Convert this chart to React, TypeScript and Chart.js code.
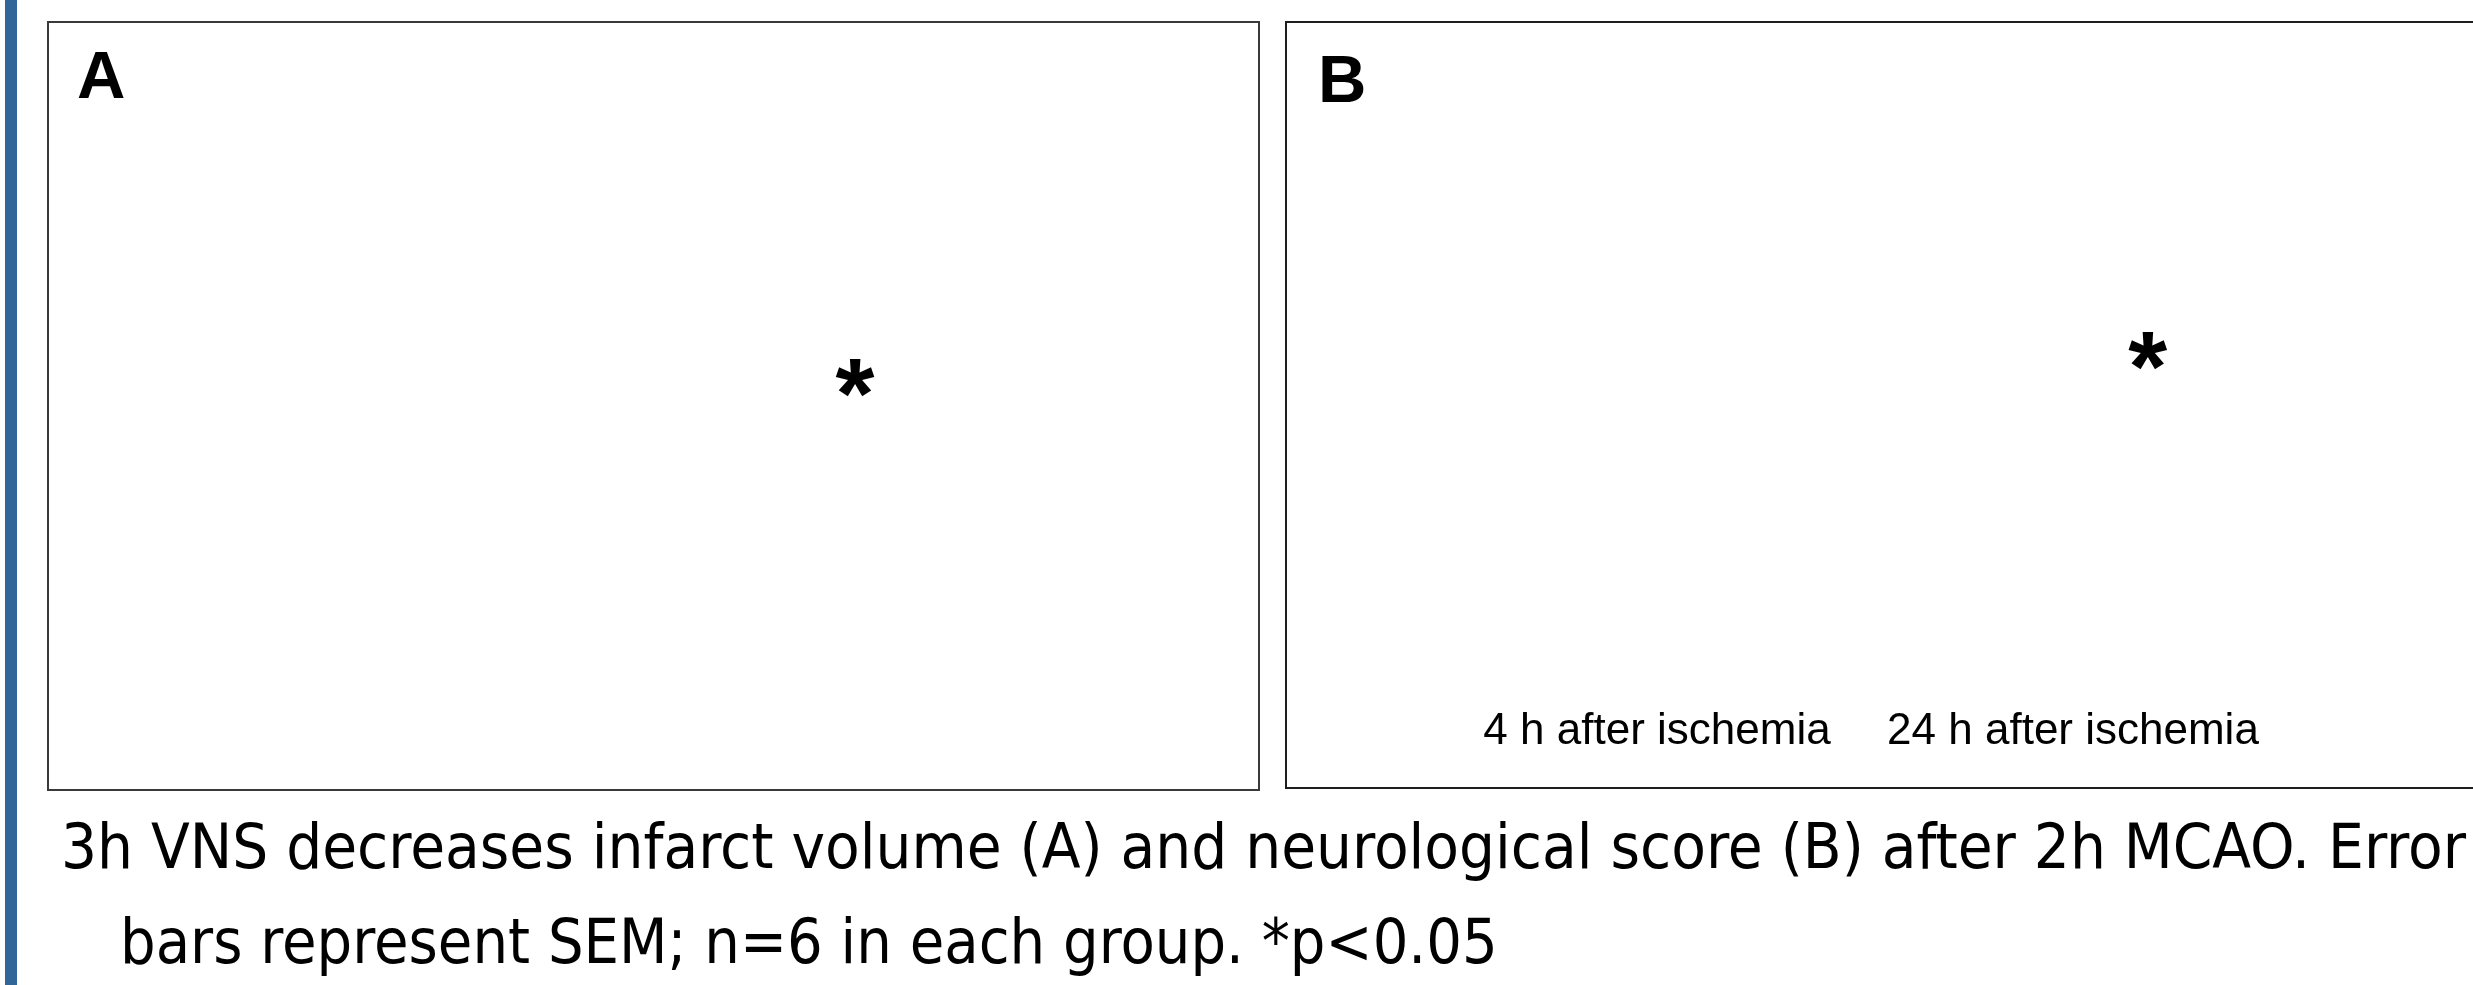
import React, { useEffect, useLayoutEffect, useRef, useState } from "react";
import { Chart, registerables } from "chart.js";

Chart.register(...registerables);

// ---------- data ----------
const panelLetters = ["A", "B"];
const timepointLabels = ["4 h after ischemia", "24 h after ischemia"];
const timepointPositions = [0, 1];
// significance markers (x in group units, y in % of panel value range)
const sigMarkA_x = [1];
const sigMarkA_y = [53.6];
const sigMarkB_x = [1.18];
const sigMarkB_y = [51.2];
const sigSymbol = "*";
const captionLines = [
  "3h VNS decreases infarct volume (A) and neurological score (B) after 2h MCAO. Error",
  "bars represent SEM; n=6 in each group. *p<0.05",
];

const ARIAL = "'Liberation Sans', Arial, Helvetica, sans-serif";
const CAPTION_FONT = "'DejaVu Sans Condensed', 'DejaVu Sans', Tahoma, sans-serif";

const asteriskPlugin = {
  id: "sigAsterisk",
  afterDatasetsDraw(chart: any) {
    const ctx = chart.ctx;
    chart.data.datasets.forEach((_ds: any, i: number) => {
      const meta = chart.getDatasetMeta(i);
      meta.data.forEach((pt: any) => {
        ctx.save();
        ctx.font = `bold 100px ${ARIAL}`;
        ctx.fillStyle = "#000";
        ctx.textAlign = "left";
        ctx.textBaseline = "alphabetic";
        const m = ctx.measureText(sigSymbol);
        const w = m.actualBoundingBoxLeft + m.actualBoundingBoxRight;
        const h = m.actualBoundingBoxAscent + m.actualBoundingBoxDescent;
        const x0 = pt.x - w / 2 + m.actualBoundingBoxLeft;
        const y0 = pt.y - h / 2 + m.actualBoundingBoxAscent;
        ctx.fillText(sigSymbol, x0, y0);
        ctx.restore();
      });
    });
  },
};

type PanelProps = {
  width: number;
  height: number;
  xMin: number;
  xMax: number;
  markX: number[];
  markY: number[];
  showTicks: boolean;
};

function PanelChart({ width, height, xMin, xMax, markX, markY, showTicks }: PanelProps) {
  const ref = useRef<HTMLCanvasElement | null>(null);
  useEffect(() => {
    if (!ref.current) return;
    const chart = new Chart(ref.current, {
      type: "scatter",
      data: {
        datasets: [
          {
            data: markX.map((x, i) => ({ x, y: markY[i] })),
            pointRadius: 0,
            pointHoverRadius: 0,
          },
        ],
      },
      options: {
        animation: false,
        responsive: false,
        events: [],
        layout: { padding: { left: 0, right: 0, top: 0, bottom: showTicks ? 26 : 0 } },
        plugins: {
          legend: { display: false },
          tooltip: { enabled: false },
          title: { display: false },
        },
        scales: {
          x: {
            type: "linear",
            min: xMin,
            max: xMax,
            display: showTicks,
            grid: { display: false },
            border: { display: false },
            afterBuildTicks: (axis: any) => {
              axis.ticks = timepointPositions.map((v) => ({ value: v }));
            },
            ticks: {
              autoSkip: false,
              maxRotation: 0,
              minRotation: 0,
              padding: 3,
              color: "#000",
              font: { family: ARIAL, size: 44 },
              callback: (_v: any, i: number) => timepointLabels[i],
            },
          },
          y: { type: "linear", min: 0, max: 100, display: false },
        },
      } as any,
      plugins: [asteriskPlugin],
    });
    return () => chart.destroy();
  }, []);
  return <canvas ref={ref} width={width} height={height} style={{ display: "block" }} />;
}

function Caption() {
  const r1 = useRef<HTMLSpanElement | null>(null);
  const r2 = useRef<HTMLSpanElement | null>(null);
  const [scales, setScales] = useState([1, 1]);
  useLayoutEffect(() => {
    const w1 = r1.current ? r1.current.offsetWidth : 0;
    const w2 = r2.current ? r2.current.offsetWidth : 0;
    setScales([w1 > 0 ? 2405 / w1 : 1, w2 > 0 ? 1378 / w2 : 1]);
  }, []);
  const lineStyle = (left: number, top: number, s: number): React.CSSProperties => ({
    position: "absolute",
    left,
    top,
    fontFamily: CAPTION_FONT,
    fontSize: 62,
    lineHeight: "62px",
    whiteSpace: "nowrap",
    color: "#000",
    transform: `scaleX(${s})`,
    transformOrigin: "0 0",
    display: "inline-block",
  });
  return (
    <>
      <span ref={r1} style={lineStyle(61, 815.6, scales[0])}>{captionLines[0]}</span>
      <span ref={r2} style={lineStyle(120, 910.6, scales[1])}>{captionLines[1]}</span>
    </>
  );
}

export default function App() {
  const letterStyle = (left: number, top: number): React.CSSProperties => ({
    position: "absolute",
    left,
    top,
    fontFamily: ARIAL,
    fontWeight: "bold",
    fontSize: 67,
    lineHeight: "67px",
    color: "#000",
    whiteSpace: "nowrap",
  });
  return (
    <div
      style={{
        position: "fixed",
        left: 0,
        top: 0,
        width: 2473,
        height: 985,
        overflow: "hidden",
        background: "#fff",
      }}
    >
      <div style={{ position: "absolute", left: 5, top: 0, width: 12, height: 985, background: "#326699" }} />

      <div
        style={{
          position: "absolute",
          left: 47,
          top: 21,
          width: 1213,
          height: 770,
          border: "2px solid #3a3a3a",
          boxSizing: "border-box",
        }}
      >
        <PanelChart
          width={1209}
          height={766}
          xMin={0}
          xMax={1.5}
          markX={sigMarkA_x}
          markY={sigMarkA_y}
          showTicks={false}
        />
      </div>

      <div
        style={{
          position: "absolute",
          left: 1285,
          top: 21,
          width: 1250,
          height: 768,
          border: "2px solid #1e1e1e",
          boxSizing: "border-box",
        }}
      >
        <PanelChart
          width={1246}
          height={764}
          xMin={-0.8894}
          xMax={2.1058}
          markX={sigMarkB_x}
          markY={sigMarkB_y}
          showTicks={true}
        />
      </div>

      <div style={letterStyle(77, 41)}>{panelLetters[0]}</div>
      <div style={letterStyle(1318, 45.3)}>{panelLetters[1]}</div>

      <Caption />
    </div>
  );
}
